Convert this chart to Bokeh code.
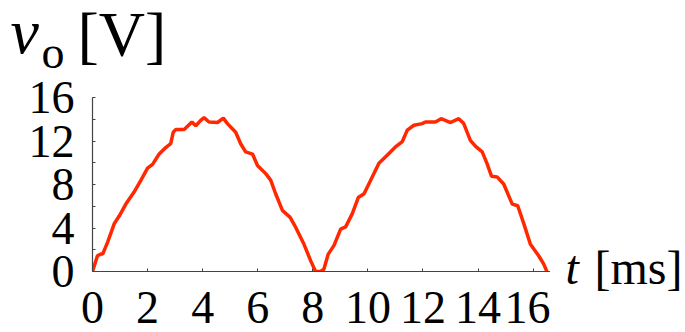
from bokeh.plotting import figure
from bokeh.models import Range1d, FixedTicker
from bokeh.layouts import column, row
from bokeh.core.properties import value
from bokeh.embed import file_html
from bokeh.resources import INLINE

# Data (time in ms, output voltage in V)
t_ms = [0, 0.18, 0.30, 0.37, 0.55, 0.79, 0.97, 1.21, 1.51, 1.76, 2.0, 2.18, 2.42, 2.66,
        2.84, 2.93, 3.03, 3.33, 3.45, 3.61, 3.75, 3.93, 4.05, 4.23, 4.54, 4.75, 4.9,
        5.2, 5.38, 5.56, 5.81, 5.99, 6.29, 6.47, 6.65, 6.9, 7.17, 7.38, 7.68, 7.92,
        8.1, 8.28, 8.4, 8.56, 8.77, 9.01, 9.19, 9.43, 9.65, 9.86, 10.1, 10.4, 10.7,
        11.0, 11.25, 11.43, 11.67, 11.97, 12.09, 12.45, 12.66, 13.0, 13.3, 13.48,
        13.72, 13.91, 14.15, 14.33, 14.49, 14.69, 14.93, 15.24, 15.44, 15.66, 15.9,
        16.2, 16.38, 16.5]
v_o = [0, 1.45, 1.6, 1.6, 2.7, 4.4, 5.1, 6.2, 7.3, 8.4, 9.5, 9.85, 10.8, 11.4,
       11.75, 12.8, 13.05, 13.05, 13.35, 13.75, 13.4, 13.9, 14.15, 13.75, 13.7, 14.1, 13.6,
       12.8, 11.75, 11.0, 10.8, 9.75, 9.0, 8.4, 7.15, 5.6, 5.0, 4.05, 2.5, 1.0,
       0.0, 0.0, 0.2, 1.6, 2.4, 3.9, 4.1, 5.3, 6.8, 7.15, 8.4, 9.95, 10.7,
       11.45, 11.95, 13.0, 13.45, 13.6, 13.75, 13.75, 14.05, 13.7, 14.05, 13.6,
       12.05, 11.5, 11.0, 9.9, 8.75, 8.7, 8.05, 6.2, 6.05, 4.4, 2.5,
       1.45, 0.7, 0.0]

x_ticks = [0, 2, 4, 6, 8, 10, 12, 14, 16]
y_ticks = [0, 4, 8, 12, 16]
y_minor = [2, 6, 10, 14]

FONT = "Liberation Serif"


def text_panel(w, h):
    """An axis-less figure whose frame fills its canvas: 1 data unit = 1 px, y down."""
    f = figure(width=w, height=h, output_backend="svg", toolbar_location=None,
               x_range=Range1d(0, w), y_range=Range1d(h, 0),
               x_axis_type=None, y_axis_type=None, title=None,
               min_border_left=0, min_border_right=0, min_border_top=0,
               min_border_bottom=0)
    f.outline_line_color = None
    f.background_fill_color = "white"
    f.border_fill_color = "white"
    if "frame_align" in f.properties():
        f.frame_align = False
    return f


def put(f, x, y, txt, size, italic=False):
    f.text(x=[x], y=[y], text=[txt], text_font=value(FONT),
           text_font_style="italic" if italic else "normal",
           text_font_size=size, text_color="black",
           text_baseline="alphabetic", text_align="left")


# --- title strip: v_o [V]
top = text_panel(685, 80)
put(top, 10, 31, "v", "64px", italic=True)
put(top, 41, 52, "o", "46px")
put(top, 77, 34, "[V]", "64px")

# --- main chart
p = figure(width=550, height=252, output_backend="svg", toolbar_location=None,
           x_range=Range1d(0, 16.63), y_range=Range1d(0, 16),
           min_border_left=92, min_border_right=0, min_border_top=17,
           min_border_bottom=61)
p.outline_line_color = None
p.grid.visible = False
p.background_fill_color = "white"
p.border_fill_color = "white"

p.line(t_ms, v_o, line_color="#ff2800", line_width=3.5)

for ax in (p.xaxis[0], p.yaxis[0]):
    ax.axis_line_color = "#444444"
    ax.axis_line_width = 1.2
    ax.major_tick_line_color = "#444444"
    ax.minor_tick_line_color = "#444444"
    ax.major_tick_in = 3
    ax.major_tick_out = 0
    ax.minor_tick_in = 3
    ax.minor_tick_out = 0
    ax.major_label_text_font = FONT
    ax.major_label_text_font_size = "46px"
    ax.major_label_text_color = "black"

p.xaxis[0].ticker = FixedTicker(ticks=x_ticks, minor_ticks=[])
p.yaxis[0].ticker = FixedTicker(ticks=y_ticks, minor_ticks=y_minor)
p.xaxis[0].major_label_text_line_height = 1.0
p.xaxis[0].major_label_standoff = 20
p.yaxis[0].major_label_standoff = 18

# --- right strip: t [ms]
side = text_panel(135, 252)
put(side, 15, 187, "t", "48px", italic=True)
put(side, 44, 187, "[ms]", "48px")

layout = column(top, row(p, side, spacing=0), spacing=0)

open("out.html", "w").write(file_html(layout, INLINE))
